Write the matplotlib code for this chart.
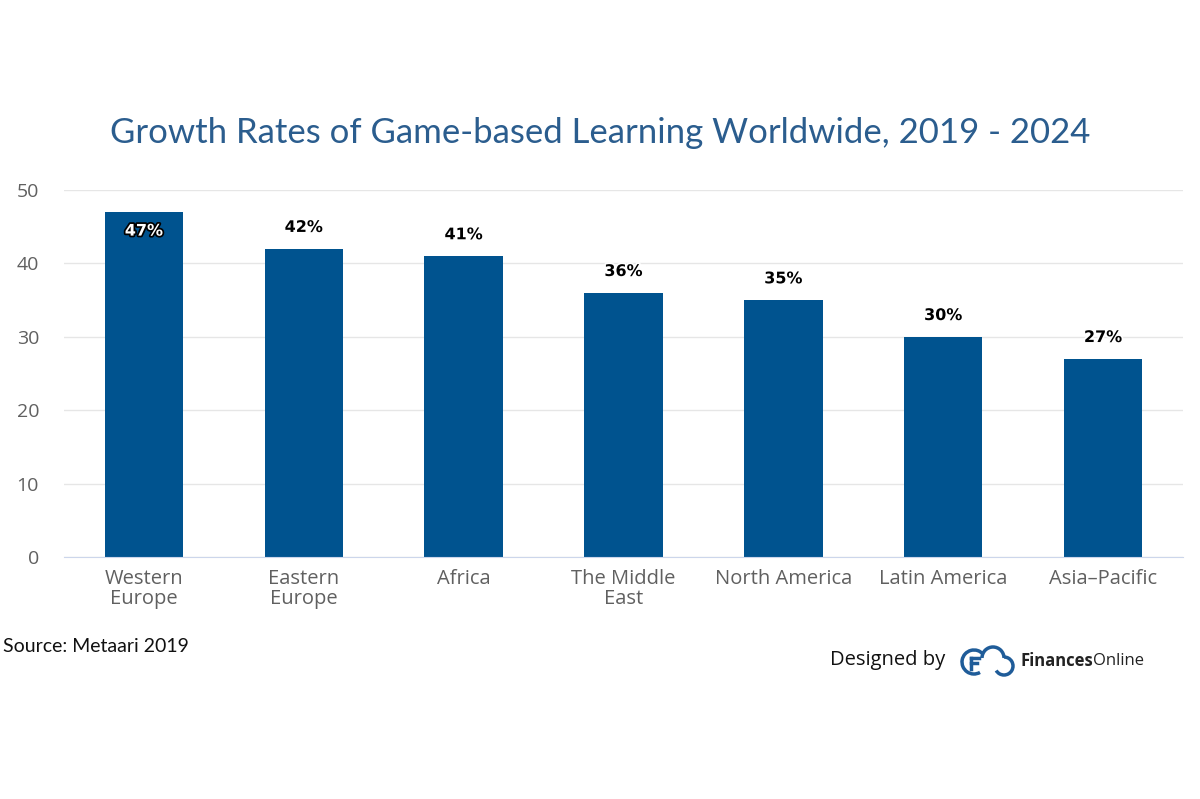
import matplotlib
matplotlib.use("Agg")
import matplotlib.pyplot as plt
from matplotlib.patches import Arc
import matplotlib.patheffects as pe

categories = ["Western\nEurope", "Eastern\nEurope", "Africa", "The Middle\nEast",
              "North America", "Latin America", "Asia–Pacific"]
values = [47, 42, 41, 36, 35, 30, 27]
yticks = [0, 10, 20, 30, 40, 50]

BAR = "#00538f"
fig = plt.figure(figsize=(12, 7.99), dpi=100)
ax = fig.add_axes([64/1200, 1-557/799, (1183-64)/1200, (557-190)/799])

x = list(range(len(values)))
ax.bar(x, values, width=0.49, color=BAR, zorder=3)
ax.set_xlim(-0.5, len(values)-0.5)
ax.set_ylim(0, 50)
ax.set_yticks(yticks)
ax.set_xticks(x)
ax.set_xticklabels(categories, fontsize=14.5, color="#606060", family="Open Sans",
                   linespacing=0.98, va="top")
ax.tick_params(axis="x", length=0, pad=9)
ax.tick_params(axis="y", length=0, pad=18, labelsize=14, labelcolor="#606060")
for lab in ax.get_yticklabels():
    lab.set_family("Open Sans")
ax.grid(axis="y", color="#e6e6e6", linewidth=1, zorder=0)
for s in ["top", "right", "left"]:
    ax.spines[s].set_visible(False)
ax.spines["bottom"].set_color("#ccd6eb")
ax.spines["bottom"].set_zorder(4)

for i, v in enumerate(values):
    if i == 0:
        ax.text(i, v - 2.6, f"{v}%", ha="center", va="center", fontsize=11.5,
                fontweight="bold", color="white", family="DejaVu Sans",
                path_effects=[pe.withStroke(linewidth=2.5, foreground="black")], zorder=5)
    else:
        ax.text(i, v + 2.9, f"{v}%", ha="center", va="center", fontsize=11.5,
                fontweight="bold", color="black", family="DejaVu Sans",
                path_effects=[pe.withStroke(linewidth=2.5, foreground="white")], zorder=5)

fig.text(0.5, 1-133/799, "Growth Rates of Game-based Learning Worldwide, 2019 - 2024",
         ha="center", va="center", fontsize=25, color="#2b5d8e", family="Lato",
         fontweight="normal")
fig.text(3/1200, 1-646/799, "Source: Metaari 2019", ha="left", va="center",
         fontsize=14, color="#111111", family="Lato")
fig.text(830/1200, 1-660/799, "Designed by", ha="left", va="center",
         fontsize=14.5, color="#111111", family="Open Sans")
t1 = fig.text(1020/1200, 1-661/799, "Finances", ha="left", va="center",
              fontsize=12, color="#222222", family="Open Sans", fontweight="bold")
fig.canvas.draw()
bb = t1.get_window_extent()
fig.text(bb.x1/1200, 1-661/799, "Online", ha="left", va="center",
         fontsize=12, color="#222222", family="Open Sans")

# logo
lax = fig.add_axes([960/1200, 1-678/799, 56/1200, 34/799])
lax.set_xlim(0, 56); lax.set_ylim(0, 34); lax.axis("off")
lax.add_patch(Arc((14, 16), 24, 24, theta1=40, theta2=300, color="#1f5c99", lw=2.5))
lax.add_patch(Arc((33, 20), 22, 22, theta1=0, theta2=180, color="#1f5c99", lw=2.5))
lax.add_patch(Arc((44, 12), 18, 18, theta1=-150, theta2=90, color="#1f5c99", lw=2.5))
lax.plot([11, 19], [20, 20], color="#1f5c99", lw=2.5)
lax.plot([11, 11], [9, 20], color="#1f5c99", lw=2.5)
lax.plot([11, 17], [15, 15], color="#1f5c99", lw=2.5)

fig.savefig("out.png", dpi=100)
